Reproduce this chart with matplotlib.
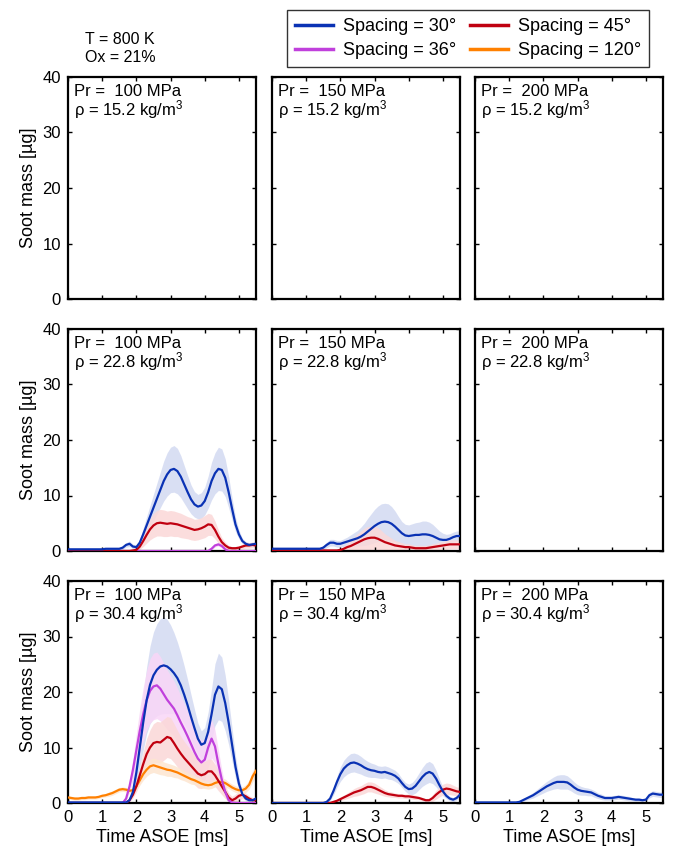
import numpy as np
import matplotlib
matplotlib.use("Agg")
import matplotlib.pyplot as plt
from matplotlib.lines import Line2D

plt.rcParams['font.family'] = ['Liberation Sans', 'DejaVu Sans']
plt.rcParams['mathtext.fontset'] = 'custom'
plt.rcParams['mathtext.rm'] = 'Liberation Sans'
plt.rcParams['mathtext.it'] = 'Liberation Sans:italic'

# ---------------- data ----------------
time_ms = np.round(np.arange(0, 5.51, 0.1), 1)   # 56 samples, 0.0 .. 5.5 ms

pressures = ["100", "150", "200"]
densities = ["15.2", "22.8", "30.4"]
spacing_labels = ["Spacing = 30°", "Spacing = 36°", "Spacing = 45°", "Spacing = 120°"]
colors = {"30": "#0a32b4", "36": "#c040dc", "45": "#c00010", "120": "#ff8000"}
band_colors = {"30": "#d3daf2", "36": "#f9d6f7", "45": "#fbd8d8", "120": "#fde6d0"}

# rho = 22.8, Pr = 100
b30_228_100 = [0.3,0.3,0.3,0.3,0.3,0.3,0.3,0.3,0.3,0.3,0.3,0.4,0.4,0.4,0.4,0.4,0.6,1.1,1.3,0.8,
               0.7,1.5,3.0,4.6,6.2,7.8,9.4,11.0,12.6,13.8,14.6,14.8,14.4,13.4,12.0,10.6,9.3,8.4,8.0,8.2,
               9.0,10.6,12.6,14.0,14.8,14.6,13.2,10.6,7.6,4.8,3.0,1.8,1.3,1.1,1.2,1.3]
s30_228_100 = [0.2,0.2,0.2,0.2,0.2,0.2,0.2,0.2,0.2,0.2,0.2,0.2,0.2,0.2,0.2,0.2,0.3,0.4,0.5,0.4,
               0.4,0.7,1.1,1.6,2.0,2.4,2.8,3.2,3.6,3.9,4.1,4.2,4.1,3.8,3.4,3.0,2.6,2.3,2.2,2.3,
               2.5,2.9,3.4,3.7,3.9,3.8,3.4,2.8,2.0,1.3,0.8,0.5,0.4,0.4,0.4,0.4]
b45_228_100 = [0.0,0.0,0.0,0.0,0.0,0.0,0.0,0.0,0.0,0.0,0.0,0.0,0.0,0.0,0.0,0.0,0.0,0.0,0.0,0.1,
               0.2,0.8,1.8,2.9,3.9,4.6,5.0,5.1,5.0,4.9,5.0,4.9,4.8,4.6,4.4,4.2,4.0,3.8,3.9,4.1,
               4.4,4.8,4.7,3.8,2.6,1.6,1.0,0.6,0.5,0.5,0.6,0.8,1.0,1.0,1.1,1.0]
s45_228_100 = [0.0,0.0,0.0,0.0,0.0,0.0,0.0,0.0,0.0,0.0,0.0,0.0,0.0,0.0,0.0,0.0,0.0,0.0,0.0,0.1,
               0.2,0.5,1.0,1.5,1.9,2.2,2.3,2.4,2.4,2.3,2.3,2.3,2.2,2.2,2.1,2.0,2.0,1.9,1.9,1.9,
               2.0,2.0,1.9,1.6,1.2,0.8,0.6,0.4,0.3,0.3,0.3,0.4,0.5,0.5,0.5,0.5]
b36_228_100 = [0.0]*42 + [0.4,1.0,1.2,0.9,0.3,0.0] + [0.0]*8
s36_228_100 = [0.0]*42 + [0.2,0.3,0.3,0.3,0.2,0.0] + [0.0]*8

# rho = 22.8, Pr = 150
b30_228_150 = [0.4,0.4,0.4,0.4,0.4,0.4,0.4,0.4,0.4,0.4,0.4,0.4,0.4,0.4,0.4,0.6,1.1,1.5,1.5,1.3,
               1.3,1.5,1.7,1.9,2.1,2.3,2.6,3.0,3.5,4.0,4.5,4.9,5.2,5.3,5.2,4.9,4.4,3.8,3.2,2.8,
               2.7,2.8,2.9,2.9,3.0,3.0,2.9,2.7,2.4,2.1,2.0,2.0,2.2,2.5,2.7,2.7]
s30_228_150 = [0.3,0.3,0.3,0.3,0.3,0.3,0.3,0.3,0.3,0.3,0.3,0.3,0.3,0.3,0.3,0.4,0.5,0.6,0.6,0.6,
               0.6,0.7,0.8,1.0,1.2,1.4,1.7,2.0,2.4,2.7,3.0,3.2,3.3,3.3,3.3,3.1,2.8,2.4,2.1,2.0,
               2.0,2.1,2.2,2.3,2.4,2.4,2.3,2.1,1.8,1.5,1.2,1.0,0.9,0.9,0.9,0.9]
b45_228_150 = [0.1,0.1,0.1,0.1,0.1,0.1,0.1,0.1,0.1,0.1,0.1,0.1,0.1,0.1,0.1,0.1,0.1,0.1,0.1,0.1,
               0.2,0.4,0.7,0.9,1.2,1.5,1.8,2.1,2.3,2.4,2.4,2.2,1.9,1.6,1.4,1.2,1.0,0.9,0.8,0.7,
               0.7,0.6,0.5,0.5,0.5,0.5,0.6,0.7,0.8,0.9,1.0,1.1,1.2,1.2,1.2,1.2]
s45_228_150 = [0.0,0.0,0.0,0.0,0.0,0.0,0.0,0.0,0.0,0.0,0.0,0.0,0.0,0.0,0.0,0.0,0.0,0.0,0.0,0.1,
               0.2,0.4,0.7,1.0,1.3,1.6,1.8,2.0,2.1,2.1,2.1,2.0,1.8,1.5,1.3,1.1,0.9,0.8,0.7,0.6,
               0.6,0.5,0.5,0.5,0.5,0.5,0.5,0.6,0.6,0.7,0.7,0.8,0.8,0.8,0.8,0.8]

# rho = 30.4, Pr = 100
b30_304_100 = [0.1,0.1,0.1,0.1,0.1,0.1,0.1,0.1,0.1,0.1,0.1,0.1,0.1,0.1,0.1,0.1,0.1,0.1,0.5,2.0,
               5.5,10.0,14.5,18.5,21.3,23.0,24.0,24.6,24.8,24.6,24.1,23.4,22.5,21.2,19.5,17.6,15.5,13.5,11.6,10.5,
               10.8,12.8,16.0,19.5,21.0,20.5,18.0,14.5,10.5,6.5,3.5,1.6,0.8,0.5,0.5,0.8]
s30_304_100 = [0.2,0.2,0.2,0.2,0.2,0.2,0.2,0.2,0.2,0.2,0.2,0.2,0.2,0.2,0.2,0.2,0.2,0.2,0.3,0.8,
               2.0,3.5,5.0,6.0,7.0,7.8,8.3,8.6,8.7,8.5,8.0,7.3,6.5,5.8,5.2,4.6,4.0,3.4,2.8,2.5,
               2.8,3.6,4.6,5.6,6.0,5.8,5.0,4.0,3.0,2.0,1.2,0.6,0.4,0.3,0.3,0.3]
b36_304_100 = [0.0,0.0,0.0,0.0,0.0,0.0,0.0,0.0,0.0,0.0,0.0,0.0,0.0,0.0,0.0,0.0,0.0,0.8,3.0,6.0,
               9.5,13.0,16.0,18.5,20.2,21.0,21.2,20.6,19.6,18.6,17.8,17.0,15.8,14.5,13.3,12.0,10.6,9.2,8.0,7.3,
               7.8,10.0,11.6,10.2,7.0,4.2,2.0,0.5,0.1,0.0,0.0,0.0,0.0,0.0,0.0,0.0]
s36_304_100 = [0.0,0.0,0.0,0.0,0.0,0.0,0.0,0.0,0.0,0.0,0.0,0.0,0.0,0.0,0.0,0.0,0.0,0.4,1.0,2.0,
               3.0,4.0,4.8,5.4,5.8,6.0,6.0,5.8,5.6,5.4,5.2,5.0,4.9,4.8,4.7,4.5,4.4,4.2,4.1,4.0,
               3.8,3.6,3.5,3.0,2.5,1.8,1.0,0.3,0.1,0.0,0.0,0.0,0.0,0.0,0.0,0.0]
b45_304_100 = [0.0,0.0,0.0,0.0,0.0,0.0,0.0,0.0,0.0,0.0,0.0,0.0,0.0,0.0,0.0,0.0,0.0,0.0,0.5,1.5,
               3.0,5.0,7.0,8.8,10.0,10.8,11.0,10.9,11.4,11.9,11.7,10.8,9.8,8.9,8.1,7.4,6.7,6.0,5.3,5.0,
               5.2,5.7,5.7,5.0,4.0,3.0,2.0,1.0,0.5,0.8,1.3,1.5,1.2,0.8,0.5,0.5]
s45_304_100 = [0.0,0.0,0.0,0.0,0.0,0.0,0.0,0.0,0.0,0.0,0.0,0.0,0.0,0.0,0.0,0.0,0.0,0.0,0.3,0.6,
               1.0,1.6,2.2,2.8,3.2,3.5,3.7,3.7,3.7,3.7,3.7,3.5,3.3,3.1,3.0,2.9,2.8,2.7,2.6,2.4,
               2.3,2.2,2.2,2.0,1.8,1.5,1.2,0.8,0.7,0.8,0.8,0.7,0.6,0.5,0.5,0.5]
b120_304_100 = [1.0,0.9,0.8,0.8,0.9,0.9,1.0,1.0,1.0,1.1,1.3,1.4,1.6,1.8,2.1,2.4,2.5,2.4,2.2,2.3,
                3.0,4.1,5.2,6.0,6.6,6.8,6.6,6.4,6.2,6.0,5.9,5.7,5.5,5.2,4.9,4.6,4.3,4.1,3.8,3.5,
                3.3,3.2,3.3,3.6,3.8,3.8,3.6,3.2,2.8,2.5,2.3,2.3,2.6,3.3,4.8,5.8]
s120_304_100 = [0.3,0.3,0.3,0.3,0.3,0.3,0.3,0.3,0.3,0.3,0.3,0.3,0.4,0.4,0.4,0.4,0.4,0.4,0.4,0.5,
                0.7,0.9,1.1,1.2,1.3,1.3,1.3,1.3,1.2,1.2,1.1,1.1,1.0,1.0,0.9,0.9,0.9,0.8,0.8,0.8,
                0.7,0.7,0.7,0.7,0.7,0.7,0.7,0.6,0.6,0.6,0.6,0.6,0.7,0.8,1.0,1.0]

# rho = 30.4, Pr = 150
b30_304_150 = [0.0,0.0,0.0,0.0,0.0,0.0,0.0,0.0,0.0,0.0,0.0,0.0,0.0,0.0,0.0,0.0,0.2,0.8,2.2,3.8,
               5.2,6.2,6.8,7.2,7.3,7.1,6.8,6.4,6.1,5.9,5.8,5.6,5.5,5.6,5.4,5.2,4.9,4.4,3.6,2.9,
               2.5,2.6,3.1,3.9,4.7,5.3,5.6,5.3,4.4,3.2,2.1,1.3,0.8,0.6,0.9,1.5]
s30_304_150 = [0.1,0.1,0.1,0.1,0.1,0.1,0.1,0.1,0.1,0.1,0.1,0.1,0.1,0.1,0.1,0.1,0.2,0.4,0.7,1.0,
               1.3,1.5,1.6,1.7,1.7,1.7,1.6,1.5,1.4,1.3,1.2,1.1,1.1,1.1,1.1,1.0,1.0,0.9,0.8,0.8,
               0.9,1.1,1.3,1.5,1.7,1.9,1.9,1.8,1.5,1.1,0.8,0.5,0.4,0.4,0.4,0.5]
b45_304_150 = [0.0,0.0,0.0,0.0,0.0,0.0,0.0,0.0,0.0,0.0,0.0,0.0,0.0,0.0,0.0,0.0,0.0,0.0,0.2,0.4,
               0.7,1.0,1.3,1.6,1.9,2.1,2.3,2.6,2.9,2.9,2.7,2.4,2.1,1.8,1.6,1.5,1.4,1.3,1.3,1.2,
               1.2,1.1,1.0,0.9,0.7,0.5,0.5,0.9,1.5,2.0,2.4,2.6,2.5,2.3,2.1,2.0]
s45_304_150 = [0.0,0.0,0.0,0.0,0.0,0.0,0.0,0.0,0.0,0.0,0.0,0.0,0.0,0.0,0.0,0.0,0.0,0.0,0.1,0.2,
               0.3,0.4,0.5,0.6,0.7,0.8,0.8,0.9,0.9,0.9,0.9,0.8,0.7,0.6,0.5,0.5,0.4,0.4,0.4,0.4,
               0.4,0.4,0.4,0.3,0.3,0.3,0.4,0.6,0.8,0.9,1.0,1.0,1.0,0.9,0.8,0.8]

# rho = 30.4, Pr = 200
b30_304_200 = [0.1,0.1,0.1,0.1,0.1,0.1,0.1,0.1,0.1,0.1,0.1,0.1,0.1,0.2,0.5,0.8,1.1,1.4,1.8,2.2,
               2.6,3.0,3.3,3.6,3.8,3.8,3.8,3.7,3.3,2.8,2.4,2.2,2.1,2.0,1.9,1.6,1.3,1.1,0.9,0.9,
               0.9,1.0,1.1,1.0,0.9,0.8,0.7,0.6,0.6,0.5,0.6,1.4,1.7,1.6,1.5,1.5]
s30_304_200 = [0.1,0.1,0.1,0.1,0.1,0.1,0.1,0.1,0.1,0.1,0.1,0.1,0.1,0.1,0.2,0.3,0.4,0.5,0.6,0.7,
               0.8,0.9,1.0,1.1,1.2,1.3,1.3,1.2,1.1,1.0,0.9,0.8,0.7,0.7,0.6,0.6,0.5,0.5,0.4,0.4,
               0.4,0.4,0.4,0.4,0.4,0.4,0.3,0.3,0.3,0.3,0.3,0.5,0.5,0.5,0.5,0.5]

# panel -> list of (spacing, mean, spread)
panel_series = {
    (1, 0): [("30", b30_228_100, s30_228_100), ("45", b45_228_100, s45_228_100),
             ("36", b36_228_100, s36_228_100)],
    (1, 1): [("30", b30_228_150, s30_228_150), ("45", b45_228_150, s45_228_150)],
    (2, 0): [("30", b30_304_100, s30_304_100), ("36", b36_304_100, s36_304_100),
             ("45", b45_304_100, s45_304_100), ("120", b120_304_100, s120_304_100)],
    (2, 1): [("30", b30_304_150, s30_304_150), ("45", b45_304_150, s45_304_150)],
    (2, 2): [("30", b30_304_200, s30_304_200)],
}

# ---------------- figure ----------------
W, H = 673, 849
fig = plt.figure(figsize=(W / 100, H / 100), dpi=100)

col_left = [68, 272, 475]
row_top = [77, 329, 581]
ax_w, ax_h = 188, 222

t = np.array(time_ms)
for r in range(3):
    for c in range(3):
        ax = fig.add_axes([col_left[c] / W, 1 - (row_top[r] + ax_h) / H, ax_w / W, ax_h / H])
        ax.set_xlim(0, 5.5)
        ax.set_ylim(0, 40)
        ax.set_xticks([0, 1, 2, 3, 4, 5])
        ax.set_yticks([0, 10, 20, 30, 40])
        ax.tick_params(direction='in', length=3, width=1, top=True, right=True,
                       labelsize=12, pad=5)
        for sp in ax.spines.values():
            sp.set_linewidth(1.6)
        if c != 0:
            ax.set_yticklabels([])
        else:
            ax.set_ylabel("Soot mass [µg]", fontsize=13, labelpad=4)
        if r != 2:
            ax.set_xticklabels([])
        else:
            ax.set_xlabel("Time ASOE [ms]", fontsize=13, labelpad=3)
        ax.text(0.03, 0.914, "Pr =  %s MPa" % pressures[c], transform=ax.transAxes,
                ha='left', va='baseline', fontsize=12)
        ax.text(0.03, 0.829, "ρ = %s kg/m$^3$" % densities[r], transform=ax.transAxes,
                ha='left', va='baseline', fontsize=12)
        series = panel_series.get((r, c), [])
        for key, mean, spread in series:
            m = np.array(mean)
            s = np.array(spread)
            ax.fill_between(t, np.clip(m - s, 0, None), m + s, color=band_colors[key],
                            lw=0, alpha=0.85, zorder=1)
        for key, mean, spread in reversed(series):
            ax.plot(t, mean, color=colors[key], lw=1.6, zorder=3)

fig.text(85 / W, 1 - 40 / H, "T = 800 K", fontsize=11.5, ha='left', va='center')
fig.text(85 / W, 1 - 57 / H, "Ox = 21%", fontsize=11.5, ha='left', va='center')

handles = [Line2D([], [], color=colors["30"], lw=2.5),
           Line2D([], [], color=colors["36"], lw=2.5),
           Line2D([], [], color=colors["45"], lw=2.5),
           Line2D([], [], color=colors["120"], lw=2.5)]
leg = fig.legend(handles, spacing_labels, ncol=2, loc='upper right',
                 bbox_to_anchor=(649 / W, 1 - 10 / H), fontsize=13,
                 frameon=True, fancybox=False, edgecolor='black', handlelength=2.1,
                 handletextpad=0.55, columnspacing=0.75, borderpad=0.45, labelspacing=0.4,
                 borderaxespad=0)
leg.get_frame().set_linewidth(1.0)

fig.savefig("out.png", dpi=100)
